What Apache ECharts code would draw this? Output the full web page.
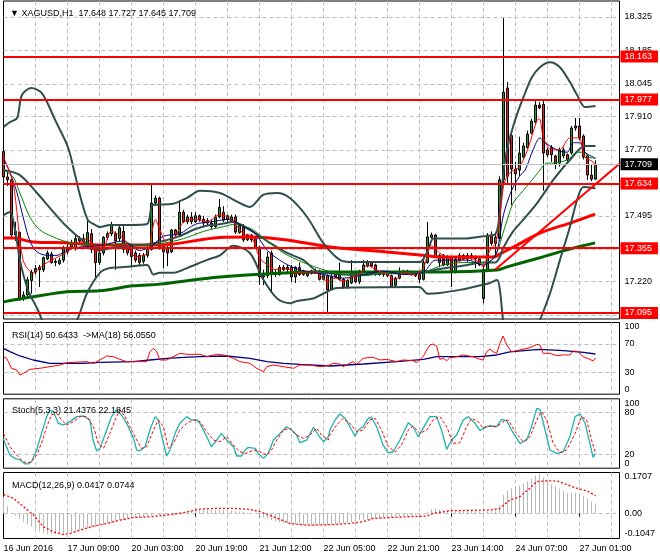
<!DOCTYPE html>
<html><head><meta charset="utf-8">
<script src="https://cdn.jsdelivr.net/npm/echarts@6/dist/echarts.min.js"></script>
<style>html,body{margin:0;padding:0;background:#fff}#c{width:660px;height:560px}</style>
</head><body><div id="c"></div>
<script>
// ---------- DATA ----------
const timeLabels = ["16 Jun 2016","17 Jun 09:00","20 Jun 03:00","20 Jun 19:00","21 Jun 12:00","22 Jun 05:00","22 Jun 21:00","23 Jun 14:00","24 Jun 07:00","27 Jun 01:00"];
const priceTicks = [18.325,18.185,18.045,17.910,17.770,17.630,17.495,17.355,17.220,17.080];
const levels = [18.163,17.977,17.634,17.355,17.095];
const bidPrice = 17.709;
// [open, close, low, high]
const candles = [
[17.763,17.657,17.640,17.786],[17.657,17.645,17.620,17.680],[17.645,17.415,17.400,17.650],[17.415,17.430,17.390,17.470],
[17.425,17.150,17.140,17.430],[17.155,17.165,17.140,17.180],[17.165,17.228,17.160,17.240],[17.225,17.260,17.170,17.270],
[17.260,17.275,17.250,17.290],[17.280,17.270,17.198,17.290],[17.270,17.320,17.260,17.325],[17.315,17.340,17.310,17.350],
[17.335,17.300,17.295,17.345],[17.305,17.300,17.285,17.315],[17.295,17.310,17.290,17.320],[17.310,17.360,17.300,17.370],
[17.345,17.365,17.335,17.380],[17.365,17.380,17.355,17.395],[17.360,17.400,17.350,17.420],[17.400,17.390,17.380,17.410],
[17.385,17.400,17.370,17.420],[17.380,17.425,17.370,17.478],[17.420,17.355,17.340,17.440],[17.355,17.300,17.235,17.360],
[17.300,17.340,17.290,17.350],[17.340,17.405,17.330,17.410],[17.405,17.420,17.395,17.430],[17.420,17.455,17.410,17.470],
[17.420,17.390,17.270,17.430],[17.400,17.445,17.390,17.455],[17.430,17.355,17.340,17.460],[17.370,17.340,17.330,17.380],
[17.360,17.325,17.280,17.370],[17.340,17.310,17.300,17.350],[17.330,17.300,17.285,17.340],[17.305,17.330,17.295,17.340],
[17.330,17.360,17.320,17.370],[17.355,17.548,17.350,17.632],[17.548,17.569,17.540,17.580],[17.569,17.365,17.355,17.575],
[17.370,17.345,17.277,17.380],[17.360,17.340,17.285,17.370],[17.345,17.436,17.340,17.440],[17.436,17.415,17.410,17.440],
[17.415,17.510,17.410,17.560],[17.510,17.470,17.465,17.520],[17.470,17.490,17.460,17.500],[17.490,17.470,17.460,17.510],
[17.470,17.495,17.465,17.510],[17.495,17.480,17.470,17.500],[17.480,17.465,17.450,17.495],[17.475,17.465,17.455,17.485],
[17.465,17.450,17.440,17.480],[17.450,17.490,17.445,17.500],[17.490,17.530,17.485,17.565],[17.510,17.477,17.470,17.535],
[17.480,17.495,17.470,17.500],[17.470,17.490,17.465,17.500],[17.490,17.427,17.420,17.500],[17.425,17.455,17.420,17.460],
[17.450,17.394,17.385,17.460],[17.395,17.415,17.390,17.420],[17.415,17.395,17.385,17.420],[17.400,17.365,17.360,17.410],
[17.365,17.240,17.207,17.370],[17.240,17.245,17.205,17.270],[17.245,17.323,17.235,17.345],[17.340,17.256,17.173,17.350],
[17.256,17.250,17.240,17.270],[17.250,17.280,17.245,17.290],[17.280,17.270,17.265,17.290],[17.270,17.280,17.260,17.290],
[17.280,17.240,17.220,17.290],[17.240,17.280,17.215,17.285],[17.280,17.250,17.245,17.300],[17.250,17.265,17.245,17.270],
[17.245,17.255,17.240,17.260],[17.255,17.265,17.250,17.270],[17.265,17.260,17.255,17.275],[17.265,17.230,17.225,17.270],
[17.230,17.245,17.225,17.250],[17.245,17.186,17.094,17.250],[17.190,17.240,17.185,17.255],[17.255,17.240,17.235,17.260],
[17.230,17.255,17.225,17.300],[17.230,17.200,17.190,17.235],[17.200,17.225,17.190,17.230],[17.215,17.260,17.210,17.310],
[17.260,17.220,17.215,17.265],[17.220,17.265,17.210,17.270],[17.265,17.290,17.260,17.310],[17.285,17.300,17.280,17.310],
[17.300,17.285,17.280,17.305],[17.290,17.250,17.245,17.295],[17.250,17.260,17.245,17.265],[17.260,17.250,17.240,17.265],
[17.255,17.245,17.240,17.260],[17.245,17.200,17.195,17.250],[17.205,17.235,17.200,17.240],[17.235,17.260,17.230,17.280],
[17.255,17.265,17.250,17.270],[17.265,17.255,17.250,17.270],[17.255,17.250,17.245,17.260],[17.255,17.245,17.240,17.260],
[17.250,17.230,17.215,17.255],[17.230,17.300,17.225,17.310],[17.300,17.407,17.295,17.469],[17.405,17.415,17.400,17.425],
[17.415,17.325,17.320,17.420],[17.300,17.330,17.280,17.335],[17.330,17.290,17.285,17.335],[17.290,17.320,17.285,17.330],
[17.320,17.260,17.198,17.325],[17.260,17.315,17.255,17.320],[17.310,17.330,17.305,17.340],[17.330,17.315,17.310,17.335],
[17.315,17.330,17.300,17.340],[17.330,17.320,17.310,17.340],[17.320,17.315,17.277,17.330],[17.315,17.290,17.285,17.320],
[17.150,17.270,17.130,17.290],[17.270,17.415,17.260,17.423],[17.415,17.380,17.370,17.430],[17.380,17.405,17.330,17.420],
[17.400,17.645,17.390,17.660],[17.645,18.011,17.630,18.320],[18.028,17.660,17.630,18.053],[17.830,17.690,17.540,17.850],
[17.690,17.670,17.600,17.720],[17.686,17.757,17.660,17.825],[17.740,17.786,17.735,17.800],[17.780,17.836,17.775,17.850],
[17.840,17.890,17.835,17.900],[17.886,17.957,17.880,17.978],[17.957,17.945,17.940,17.970],[17.960,17.757,17.600,17.982],
[17.770,17.750,17.740,17.780],[17.780,17.750,17.720,17.790],[17.745,17.710,17.690,17.750],[17.715,17.770,17.700,17.780],
[17.745,17.770,17.735,17.780],[17.750,17.730,17.720,17.755],[17.757,17.861,17.750,17.870],[17.861,17.870,17.850,17.903],
[17.870,17.820,17.810,17.903],[17.828,17.740,17.730,17.835],[17.745,17.665,17.645,17.750],[17.665,17.648,17.640,17.710],
[17.648,17.709,17.645,17.727]
];
// indicator readings: [bar index, value]
const maFast = [[0,17.74],[2.4,17.632],[4.9,17.31],[7.4,17.257],[9.9,17.29],[12,17.31],[15,17.335],[18,17.37],[21,17.40],[23,17.345],[25,17.36],[27,17.43],[30,17.40],[33,17.325],[36,17.34],[37,17.42],[38,17.48],[39,17.44],[41,17.38],[43,17.41],[45,17.47],[48,17.48],[51,17.47],[54,17.50],[56,17.49],[58,17.46],[60,17.42],[62,17.41],[64,17.32],[66,17.29],[68,17.27],[71,17.275],[73,17.255],[75,17.26],[78,17.26],[81,17.22],[83,17.235],[85,17.22],[87,17.24],[89,17.25],[91,17.29],[93,17.27],[96,17.25],[98,17.23],[100,17.255],[103,17.25],[105,17.28],[107,17.37],[109,17.34],[111,17.32],[113,17.30],[116,17.32],[119,17.30],[120,17.28],[121,17.33],[122,17.36],[123,17.38],[124,17.47],[125,17.62],[126,17.66],[127,17.68],[129,17.70],[131,17.77],[133.4,17.895],[134,17.90],[135,17.82],[137,17.77],[139,17.77],[141.6,17.82],[143.4,17.82],[144,17.82],[145.4,17.74],[147.4,17.72],[148,17.70]];
const maMid = [[0,17.73],[1.6,17.677],[3.4,17.59],[4.9,17.49],[6.6,17.39],[8.4,17.344],[10.9,17.33],[13.4,17.33],[15.9,17.352],[19.1,17.365],[24,17.37],[30,17.39],[34,17.35],[37,17.37],[40,17.41],[44,17.42],[48,17.46],[52,17.47],[56,17.48],[60,17.45],[63,17.42],[66,17.35],[70,17.30],[74,17.27],[80,17.25],[85,17.235],[90,17.25],[95,17.265],[100,17.25],[105,17.26],[108,17.31],[112,17.31],[116,17.31],[120,17.29],[123,17.33],[124,17.40],[125,17.50],[127,17.60],[129,17.66],[130.4,17.686],[132.4,17.77],[134.1,17.82],[135.4,17.80],[138.4,17.77],[140.9,17.76],[142.4,17.80],[144.1,17.80],[145.4,17.76],[147.4,17.74],[148,17.735]];
const maSlow = [[0,17.686],[2.4,17.657],[4.1,17.59],[6.6,17.49],[9.1,17.436],[12.4,17.407],[15.9,17.386],[19.9,17.373],[25,17.37],[30,17.38],[35,17.37],[40,17.38],[45,17.40],[50,17.43],[55,17.45],[58,17.46],[62,17.44],[66,17.39],[70,17.34],[75,17.30],[80,17.27],[85,17.25],[90,17.245],[95,17.255],[100,17.255],[105,17.26],[110,17.29],[115,17.30],[120,17.30],[122,17.31],[123.6,17.352],[124.6,17.407],[125.9,17.477],[127.4,17.548],[129.9,17.60],[133.4,17.67],[135.9,17.715],[137.4,17.715],[140.9,17.728],[143.4,17.76],[145.4,17.76],[146.1,17.74],[148,17.736]];
const bbUpper = [[0,17.866],[1.6,17.886],[3.4,17.903],[4.6,17.999],[6.9,18.028],[9.6,18.007],[12.9,17.895],[16.1,17.782],[17.9,17.665],[19.1,17.582],[21.1,17.477],[22.9,17.457],[24.1,17.448],[26.6,17.457],[31.6,17.457],[35.9,17.461],[37.4,17.54],[42.4,17.545],[45.9,17.57],[49.1,17.60],[54.1,17.59],[59.1,17.548],[61.6,17.532],[64.9,17.582],[68.4,17.59],[71.6,17.569],[75.9,17.49],[79.9,17.382],[84.1,17.311],[87.4,17.302],[104.1,17.302],[105.5,17.33],[106.5,17.37],[107.5,17.40],[115,17.40],[120,17.41],[123,17.42],[124,17.50],[125,17.68],[126,17.78],[128,17.90],[130,17.99],[132,18.07],[134.1,18.115],[136.6,18.136],[139.1,18.115],[141.6,18.053],[143.4,17.999],[145.4,17.949],[148,17.953]];
const bbMiddle = [[0,17.686],[4.1,17.665],[8.4,17.59],[12,17.52],[15.9,17.448],[20,17.39],[24,17.352],[28,17.365],[32,17.37],[36,17.375],[40,17.39],[44,17.41],[48,17.44],[51,17.455],[54.1,17.46],[57.4,17.469],[61.6,17.436],[66.6,17.382],[70.9,17.34],[74.9,17.311],[79.1,17.257],[81.6,17.255],[85,17.25],[90,17.25],[95,17.255],[100,17.255],[105,17.26],[108,17.27],[112,17.28],[116,17.29],[120,17.30],[122.9,17.30],[124,17.32],[124.9,17.36],[127.4,17.43],[130,17.48],[133.4,17.548],[137.4,17.644],[141.6,17.728],[145.4,17.786],[148,17.786]];
const bbLower = [[0,17.498],[1.6,17.511],[2.9,17.436],[4.1,17.311],[6.1,17.186],[8.6,17.102],[9.9,17.05],[12,16.99],[14,16.97],[16,17.0],[18.4,17.06],[20.9,17.173],[24.1,17.257],[26.6,17.277],[30.9,17.282],[35.9,17.29],[37.5,17.25],[39.1,17.257],[42.4,17.257],[45.9,17.277],[50.9,17.311],[54.1,17.33],[57.4,17.37],[61.6,17.34],[64.9,17.23],[68.4,17.15],[71.6,17.13],[73.4,17.14],[77.4,17.15],[79.9,17.17],[83.4,17.194],[104,17.198],[106,17.17],[109.1,17.173],[114.1,17.186],[117.4,17.198],[121.6,17.215],[123.4,17.227],[124.1,17.186],[124.9,17.06],[126,16.97],[128,16.92],[130,16.93],[132,16.98],[134.1,17.06],[136.6,17.17],[139.1,17.31],[141.6,17.448],[143.4,17.561],[145,17.615],[148,17.61]];
const maLongRed = [[0,17.402],[2.4,17.402],[7.4,17.386],[15.9,17.382],[24.1,17.373],[39.1,17.373],[54,17.405],[62.4,17.407],[70.9,17.394],[81.6,17.365],[95.9,17.344],[104.1,17.332],[109.1,17.323],[122.4,17.323],[124.6,17.34],[128.4,17.373],[134.1,17.423],[142.4,17.469],[147.9,17.502]];
const maLongGreen = [[0,17.136],[7.4,17.157],[15.9,17.178],[24.1,17.182],[32.4,17.203],[39.1,17.21],[54.1,17.24],[79.1,17.261],[109.1,17.261],[123.4,17.269],[125.9,17.282],[134.1,17.32],[142.4,17.36],[147.9,17.382]];
const trendLine = [[122.9,17.27],[154,17.712]];
const rsi = [[0,52.3],[0.8,50],[2,36.1],[3.3,33.8],[4.1,26.8],[5,29.1],[6.6,34.7],[9.1,36.1],[11.6,38.4],[14.1,40.7],[15.8,44],[20.8,45.4],[22.5,43.1],[24.1,47.7],[25.8,53.3],[27.5,52.3],[29.1,48.6],[30.8,45.4],[35.8,45.4],[36.6,59.3],[37.5,64],[38.3,59.3],[39.1,47.7],[40.8,47.7],[44.1,57],[45.8,55.6],[49.1,55.6],[50.8,52.3],[53.3,55.6],[55,54.7],[57.5,50],[59.1,45.4],[61.6,43.1],[63.3,36.1],[65,31.4],[65.8,38.4],[67.5,40.7],[70,38.4],[72.5,36.1],[74.1,40.7],[76.6,40.7],[79.1,38.4],[81.6,40.7],[82.4,43.1],[84.1,42.1],[84.9,38.4],[86.6,43.1],[87.4,45.4],[88.3,41.7],[89.9,50],[91.6,51.4],[92.4,51.4],[94.1,47.7],[95.8,48.6],[98.3,45.4],[99.9,47.7],[102.4,46.8],[103.3,44],[104.9,52.3],[105.8,61.6],[106.6,68.6],[107.4,70],[108.3,67.2],[109.1,48.6],[109.9,50],[110.8,46.8],[111.6,50.9],[113.3,52.3],[114.9,54.7],[117.4,52.3],[119.1,48.6],[119.9,47.7],[120.8,59.3],[121.6,63],[122.4,59.3],[123.3,57],[124.1,70.9],[124.9,81.2],[125.8,68.6],[127,59.3],[128.3,60.7],[131.6,64.9],[133.3,69.5],[134.1,68.6],[134.9,57],[136.6,57],[138.3,53.8],[139.9,54.7],[141.6,54.7],[142.4,60.2],[143.7,59.3],[144.9,52.3],[146.6,48.6],[147.4,46.3],[148,50.6]];
const rsiMa = [[0,64],[1.6,59.3],[4.1,53.3],[7.4,47.7],[11.6,43.1],[19.9,43.1],[24.1,44.5],[32.4,45.3],[36.6,47.7],[40.9,50],[45,51.4],[49.1,52.3],[55.9,53.3],[61.6,50],[65.9,45.3],[70,43.1],[74.1,41.7],[81.6,39.3],[90,42.1],[98.3,45.3],[105,48.6],[108.3,52.3],[119.1,52.3],[123.3,54.7],[126.6,58.9],[131.6,61.6],[134.1,62.6],[140,60.7],[145,58.4],[148,56.06]];
const stochMain = [[0,43],[0.4,35.8],[1.6,19],[2.9,14.2],[4.1,11.8],[5.4,6.1],[6.2,6.1],[7,9.4],[8.3,26.2],[9.5,50.2],[10.8,74.3],[11.6,83.9],[12.5,81.5],[13.7,64.7],[15,62.3],[16.6,67.1],[18.3,74.3],[20,75.2],[21.6,69.5],[22.4,40],[23.3,24.8],[24.1,28.6],[25.8,55],[27,74.3],[28.3,83.9],[29.5,76.7],[30.8,64.7],[32.5,43],[33.3,26.2],[34.1,24.8],[35.4,31],[36.6,55],[37.9,74.3],[38.7,69.5],[39.5,47.8],[40.8,17.6],[41.6,26.2],[42.9,50.2],[44.1,64.7],[45.8,74.3],[47,69.5],[48.3,69.5],[49.1,64.7],[50.4,50.2],[52,31],[53.3,40.6],[54.5,50.2],[55.8,40.6],[57.5,31],[58.3,17.6],[59.5,17.6],[60.4,26.2],[61.2,30.1],[62.9,28.6],[63.7,21.4],[65,14.2],[66.2,21.4],[67.5,40.6],[69.1,50.2],[70.8,59.8],[72,55],[73.3,47.8],[74.1,36.8],[75.8,40.6],[77.5,58.9],[78.7,47.8],[80,38.2],[81.2,45.4],[81.6,55],[82.9,69.5],[84.1,78.1],[85.4,71.8],[86.6,59.8],[87.9,46.3],[88.7,55],[89.9,59.8],[91.2,71.8],[92,73.3],[93.3,59.8],[94.9,33.3],[96.2,22.2],[97.4,23.7],[99.1,40.6],[101.2,65.6],[102.4,59.8],[103.7,45.4],[104.9,57.4],[106.6,74.3],[108.3,74.3],[109.5,55],[110.8,27.1],[112,40.6],[113.3,47.8],[114.9,69.5],[116.2,74.3],[117.9,64.7],[119.1,54.1],[120.4,59.8],[122,60.8],[123.3,59.8],[124.5,70.5],[125.8,68.6],[127,55],[129.1,35.8],[130.8,40.6],[132,59.8],[133.3,86.3],[134.1,84.9],[135.4,55],[136.6,26.2],[138.3,21.4],[139.9,23.7],[141.6,45.4],[142.9,74.3],[144.1,78.1],[145.4,64.7],[146.6,35.8],[147.4,15.6],[148,21.44]];
const stochSignal = [[0,50.2],[0.4,45.4],[1.6,31],[3.3,19],[4.5,11.8],[5.8,7],[7,9.4],[8.3,19],[9.5,35.8],[10.8,59.8],[12,76.7],[13.3,79.1],[14.5,69.5],[15.8,62.3],[17.5,67.1],[19.1,74.3],[20.8,74.3],[22.5,59.8],[23.7,35.8],[25,28.6],[26.6,50.2],[27.9,69.5],[29.1,83.9],[30.4,74.3],[31.6,59.8],[33.3,40.6],[34.5,28.6],[35.8,31],[37.5,55],[38.7,69.5],[40,59.8],[41.2,28.6],[42.5,35.8],[44.1,55],[45.8,64.7],[47.5,69.5],[49.1,67.1],[50.8,52.6],[52.5,40.6],[54.1,38.2],[55.8,45.4],[57.5,33.3],[59.1,23.7],[60.8,21.4],[62.5,26.2],[64.1,23.7],[65.8,19],[67,26.2],[68.3,40.6],[70,55],[71.6,57.4],[73.3,47.8],[75,43],[76.6,47.8],[78.3,57.4],[79.5,47.8],[81.2,40.6],[81.6,47.8],[83.3,62.3],[84.9,71.8],[86.6,64.7],[88.3,52.6],[89.9,55],[91.6,69.5],[92.9,71.8],[94.5,55],[96.2,31],[97.9,23.7],[99.5,33.3],[101.2,55],[102.4,60.8],[104.1,50.2],[105.8,55],[107.4,69.5],[109.1,74.3],[110.8,59.8],[112.4,35.8],[114.1,36.8],[115.8,59.8],[117,71.8],[118.7,67.1],[119.9,57.4],[121.6,60.8],[123.3,59.8],[124.9,67.1],[126.2,69.5],[127.9,52.6],[129.9,38.2],[131.6,45.4],[133.7,74.3],[134.5,81.5],[135.8,69.5],[137.4,35.8],[139.1,22.4],[140.8,26.2],[142.9,50.2],[144.5,74.3],[145.8,69.5],[147,40.6],[148,22.18]];
const macdHist = [0.070,0.030,0.000,-0.010,-0.021,-0.035,-0.045,-0.055,-0.063,-0.075,-0.084,-0.086,-0.087,-0.087,-0.086,-0.085,-0.083,-0.080,-0.075,-0.070,
-0.067,-0.063,-0.058,-0.056,-0.052,-0.048,-0.042,-0.040,-0.035,-0.028,-0.027,-0.024,-0.021,-0.020,-0.018,-0.016,-0.015,-0.010,-0.005,-0.008,
-0.010,-0.010,-0.008,-0.008,0.002,0.004,0.006,0.008,0.010,0.012,0.013,0.014,0.014,0.014,0.015,0.014,0.013,0.012,0.010,0.008,
0.006,0.004,0.002,0.000,-0.010,-0.018,-0.022,-0.028,-0.033,-0.036,-0.039,-0.042,-0.045,-0.047,-0.049,-0.050,-0.050,-0.050,-0.050,-0.050,
-0.050,-0.050,-0.047,-0.046,-0.045,-0.043,-0.040,-0.036,-0.033,-0.030,-0.028,-0.026,-0.024,-0.022,-0.021,-0.019,-0.017,-0.016,-0.014,-0.013,
-0.012,-0.011,-0.010,-0.009,-0.007,-0.004,0.007,0.018,0.020,0.016,0.012,0.011,0.008,0.008,0.009,0.010,0.010,0.010,0.010,0.009,
0.006,0.008,0.010,0.012,0.035,0.077,0.095,0.105,0.112,0.116,0.125,0.135,0.145,0.158,0.168,0.150,0.135,0.122,0.112,0.103,
0.092,0.085,0.084,0.085,0.082,0.072,0.060,0.048,0.0417];
const macdSignal = [[0,0.079],[2.5,0.063],[5,0.028],[7.5,-0.007],[10,-0.056],[12.5,-0.077],[15,-0.088],[16.6,-0.084],[19.1,-0.070],[22.5,-0.053],[25.8,-0.042],[29.1,-0.028],[32.5,-0.017],[36.6,-0.014],[40.8,-0.007],[45,0.003],[49.1,0.018],[53.3,0.021],[57.5,0.021],[61.6,0.017],[64.1,0.007],[67.5,-0.014],[71.6,-0.042],[75.8,-0.049],[81.6,-0.047],[86.6,-0.042],[89.9,-0.035],[92.4,-0.021],[95.8,-0.018],[100.8,-0.014],[105.8,-0.011],[107.4,0.0],[111.6,0.011],[116.6,0.013],[121.6,0.014],[124.1,0.021],[126.6,0.056],[129.1,0.07],[131.6,0.105],[133.3,0.133],[135.8,0.136],[138.3,0.136],[139.9,0.126],[143.3,0.105],[145.8,0.094],[147.4,0.080],[148,0.0744]];
const rsiLabels = [0,30,70,100], rsiGrid = [30,70];
const stochLabels = [0,20,80,100], stochGrid = [20,80];
const macdLabels = [-0.1047,0,0.1707], macdGrid = [0];

// ---------- CHART ----------
const F = 'Liberation Sans';
const NCAT = 155;
const cats = Array.from({length: NCAT}, (_, i) => String(i));
const gridDash = {color: '#c0c0c0', type: [4, 3], width: 1};
const grids = [
  {left: 3.5, right: 40.5, top: 1, height: 318},
  {left: 3.5, right: 40.5, top: 322.5, height: 71.7},
  {left: 3.5, right: 40.5, top: 398.8, height: 69.4},
  {left: 3.5, right: 40.5, top: 472.5, height: 66}
].map(g => Object.assign(g, {show: true, borderColor: '#000', borderWidth: 1, backgroundColor: '#fff'}));

function catAxis(gi, labels) {
  return {
    type: 'category', gridIndex: gi, data: cats, boundaryGap: false,
    axisLine: {show: false},
    axisTick: {show: labels, interval: (i) => i % 16 === 0, length: 3, lineStyle: {color: '#000'}},
    axisLabel: {show: labels, interval: (i) => i % 16 === 0 && i / 16 < timeLabels.length,
      formatter: (v) => timeLabels[Number(v) / 16] || '', align: 'left',
      color: '#000', fontSize: 9, fontFamily: F, margin: 6},
    splitLine: {show: true, interval: (i) => i % 8 === 0 && i > 0, lineStyle: gridDash}
  };
}
function valXAxis(gi) {
  return {type: 'value', gridIndex: gi, min: 0, max: NCAT - 1, show: false};
}
function yAx(gi, min, max, labelVals, gridVals, fmt) {
  return {
    type: 'value', gridIndex: gi, position: 'right', min, max, scale: true,
    axisLine: {show: false},
    axisTick: {show: false, customValues: gridVals},
    axisLabel: {customValues: labelVals, formatter: fmt, color: '#000', fontSize: 9, fontFamily: F, margin: 5,
      verticalAlignMinLabel: gi === 0 ? 'middle' : 'bottom', verticalAlignMaxLabel: gi === 0 ? 'middle' : 'top'},
    splitLine: {show: true, lineStyle: gridDash}
  };
}

const xAxes = [catAxis(0,false), catAxis(1,false), catAxis(2,false), catAxis(3,true), valXAxis(0), valXAxis(1), valXAxis(2), valXAxis(3)];
const yAxes = [
  yAx(0, 17.0645, 18.3912, priceTicks, priceTicks, v => v.toFixed(3)),
  yAx(1, 0, 100, rsiLabels, rsiGrid, v => String(v)),
  yAx(2, 0, 100, stochLabels, stochGrid, v => String(v)),
  yAx(3, -0.1047, 0.1707, macdLabels, macdGrid, v => v === 0 ? '0.00' : v.toFixed(4))
];

function ln(name, data, xi, yi, color, width, extra) {
  return Object.assign({type: 'line', name, data, xAxisIndex: xi, yAxisIndex: yi, showSymbol: false, symbol: 'none',
    lineStyle: {color, width}, silent: true, z: 3, animation: false}, extra || {});
}
const sm = {smooth: 0.3};

const levelLines = levels.map(v => ({name: v.toFixed(3), yAxis: v, lineStyle: {color: '#ff0000', width: 2, type: 'solid'},
  label: {backgroundColor: '#ff0000', color: '#fff'}}));
levelLines.push({name: bidPrice.toFixed(3), yAxis: bidPrice, lineStyle: {color: '#c0c0c0', width: 1, type: 'solid'},
  label: {backgroundColor: '#000', color: '#fff'}});

const option = {
  animation: false,
  backgroundColor: '#fff',
  textStyle: {fontFamily: F},
  title: [
    {text: '\u25BC XAGUSD,H1  17.648 17.727 17.645 17.709', left: 5, top: 4, textStyle: {fontSize: 9, fontWeight: 'normal', color: '#000', fontFamily: F}},
    {text: 'RSI(14) 50.6433  ->MA(18) 56.0550', left: 7, top: 326, textStyle: {fontSize: 9, fontWeight: 'normal', color: '#000', fontFamily: F}},
    {text: 'Stoch(5,3,3) 21.4376 22.1845', left: 7, top: 401, textStyle: {fontSize: 9, fontWeight: 'normal', color: '#000', fontFamily: F}},
    {text: 'MACD(12,26,9) 0.0417 0.0744', left: 7, top: 476, textStyle: {fontSize: 9, fontWeight: 'normal', color: '#000', fontFamily: F}}
  ],
  grid: grids,
  xAxis: xAxes,
  yAxis: yAxes,
  series: [
    {type: 'candlestick', name: 'XAGUSD', data: candles, xAxisIndex: 0, yAxisIndex: 0, barWidth: 2.6, clip: false, z: 2,
      itemStyle: {color: '#1f9a1f', color0: '#f01818', borderColor: '#000', borderColor0: '#000', borderWidth: 1}, silent: true},
    ln('MA long green', maLongGreen, 4, 0, '#006400', 3, sm),
    ln('MA long red', maLongRed, 4, 0, '#ff0000', 3, sm),
    ln('BB upper', bbUpper, 4, 0, '#2f4f4f', 2, sm),
    ln('BB middle', bbMiddle, 4, 0, '#2f4f4f', 2, sm),
    ln('BB lower', bbLower, 4, 0, '#2f4f4f', 2, sm),
    ln('MA slow', maSlow, 4, 0, '#008000', 1, sm),
    ln('MA mid', maMid, 4, 0, '#000080', 1, sm),
    ln('MA fast', maFast, 4, 0, '#ff0000', 1, sm),
    ln('Trend', trendLine, 4, 0, '#ff0000', 2, {z: 4, markLine: {
      silent: true, symbol: 'none', animation: false,
      label: {show: true, position: 'end', distance: 1, formatter: p => p.name,
        fontSize: 9, fontFamily: F, padding: [2, 6, 1, 4]},
      data: levelLines}}),
    ln('RSI MA', rsiMa, 5, 1, '#000080', 1.3),
    ln('RSI', rsi, 5, 1, '#ff0000', 1),
    ln('Stoch main', stochMain, 6, 2, '#20b2aa', 1.3),
    ln('Stoch signal', stochSignal, 6, 2, '#ff0000', 1, {lineStyle: {color: '#ff0000', width: 1, type: [3, 2]}}),
    {type: 'bar', name: 'MACD', data: macdHist, xAxisIndex: 3, yAxisIndex: 3, barWidth: 1, silent: true,
      itemStyle: {color: '#b8b8b8'}, z: 2},
    ln('MACD signal', macdSignal, 7, 3, '#ff0000', 1, {lineStyle: {color: '#ff0000', width: 1.3, type: [2, 2]}})
  ]
};
const chart = echarts.init(document.getElementById('c'), null, {renderer: 'canvas'});
chart.setOption(option);
</script></body></html>
